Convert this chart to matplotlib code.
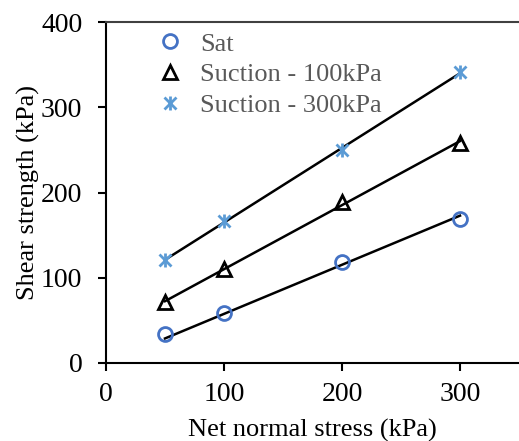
import matplotlib as mpl
import matplotlib.pyplot as plt
import numpy as np
from matplotlib.legend_handler import HandlerTuple

stress = [50, 100, 200, 300]
sat = [34, 59, 119, 169]
suction_100 = [71, 110, 189, 258]
suction_300 = [121, 166, 250, 341]

x_ticks = [0, 100, 200, 300]
y_ticks = [0, 100, 200, 300, 400]


def main():
    mpl.rcParams["font.family"] = "Liberation Serif"
    mpl.rcParams["font.size"] = 19

    fig = plt.figure(figsize=(5.19, 4.41), dpi=100)
    ax = fig.add_axes([106 / 519, 78 / 441, 413 / 519, 341 / 441])

    x = np.array(stress, dtype=float)
    xs = np.array([x.min(), x.max()])

    # Sat fitted through the origin, suction lines with an intercept
    k = np.sum(x * np.array(sat)) / np.sum(x * x)
    ax.plot(xs, k * xs, color="black", lw=1.8, zorder=2)
    for ys in (suction_100, suction_300):
        p = np.polyfit(x, ys, 1)
        ax.plot(xs, np.polyval(p, xs), color="black", lw=1.8, zorder=2)

    h_sat, = ax.plot(stress, sat, "o", ms=10, mfc="none", mec="#4472C4",
                     mew=2, zorder=3)
    h_s1, = ax.plot(stress, suction_100, "^", ms=10, mfc="none", mec="black",
                    mew=2, zorder=3)
    h_x, = ax.plot(stress, suction_300, "x", ms=8, mec="#5B9BD5", mew=2,
                   zorder=3)
    h_v, = ax.plot(stress, suction_300, "|", ms=10, mec="#5B9BD5", mew=2,
                   zorder=3)

    leg = ax.legend([h_sat, h_s1, (h_x, h_v)],
                    ["Sat", "Suction - 100kPa", "Suction - 300kPa"],
                    handler_map={tuple: HandlerTuple(ndivide=1, pad=0)},
                    loc="upper left", bbox_to_anchor=(0.065, 1.04),
                    frameon=False, handlelength=1.0, handletextpad=0.65,
                    labelspacing=0.27, fontsize=19)
    for t in leg.get_texts():
        t.set_color("#595959")

    ax.set_xlim(0, 350)
    ax.set_ylim(0, 400)
    ax.set_xticks(x_ticks)
    ax.set_yticks(y_ticks)
    ax.set_xlabel("Net normal stress (kPa)", fontsize=19, labelpad=8)
    ax.set_ylabel("Shear strength (kPa)", fontsize=19, labelpad=1)

    ax.spines["right"].set_visible(False)
    for s in ("left", "bottom", "top"):
        ax.spines[s].set_linewidth(1.5)
    ax.spines["top"].set_color("#404040")
    ax.tick_params(direction="out", length=6, width=1.5, labelsize=20)
    ax.tick_params(axis="x", pad=8)
    ax.tick_params(axis="y", pad=11)

    fig.savefig("out.png", dpi=100)
    plt.close(fig)


if __name__ == "__main__":
    main()
